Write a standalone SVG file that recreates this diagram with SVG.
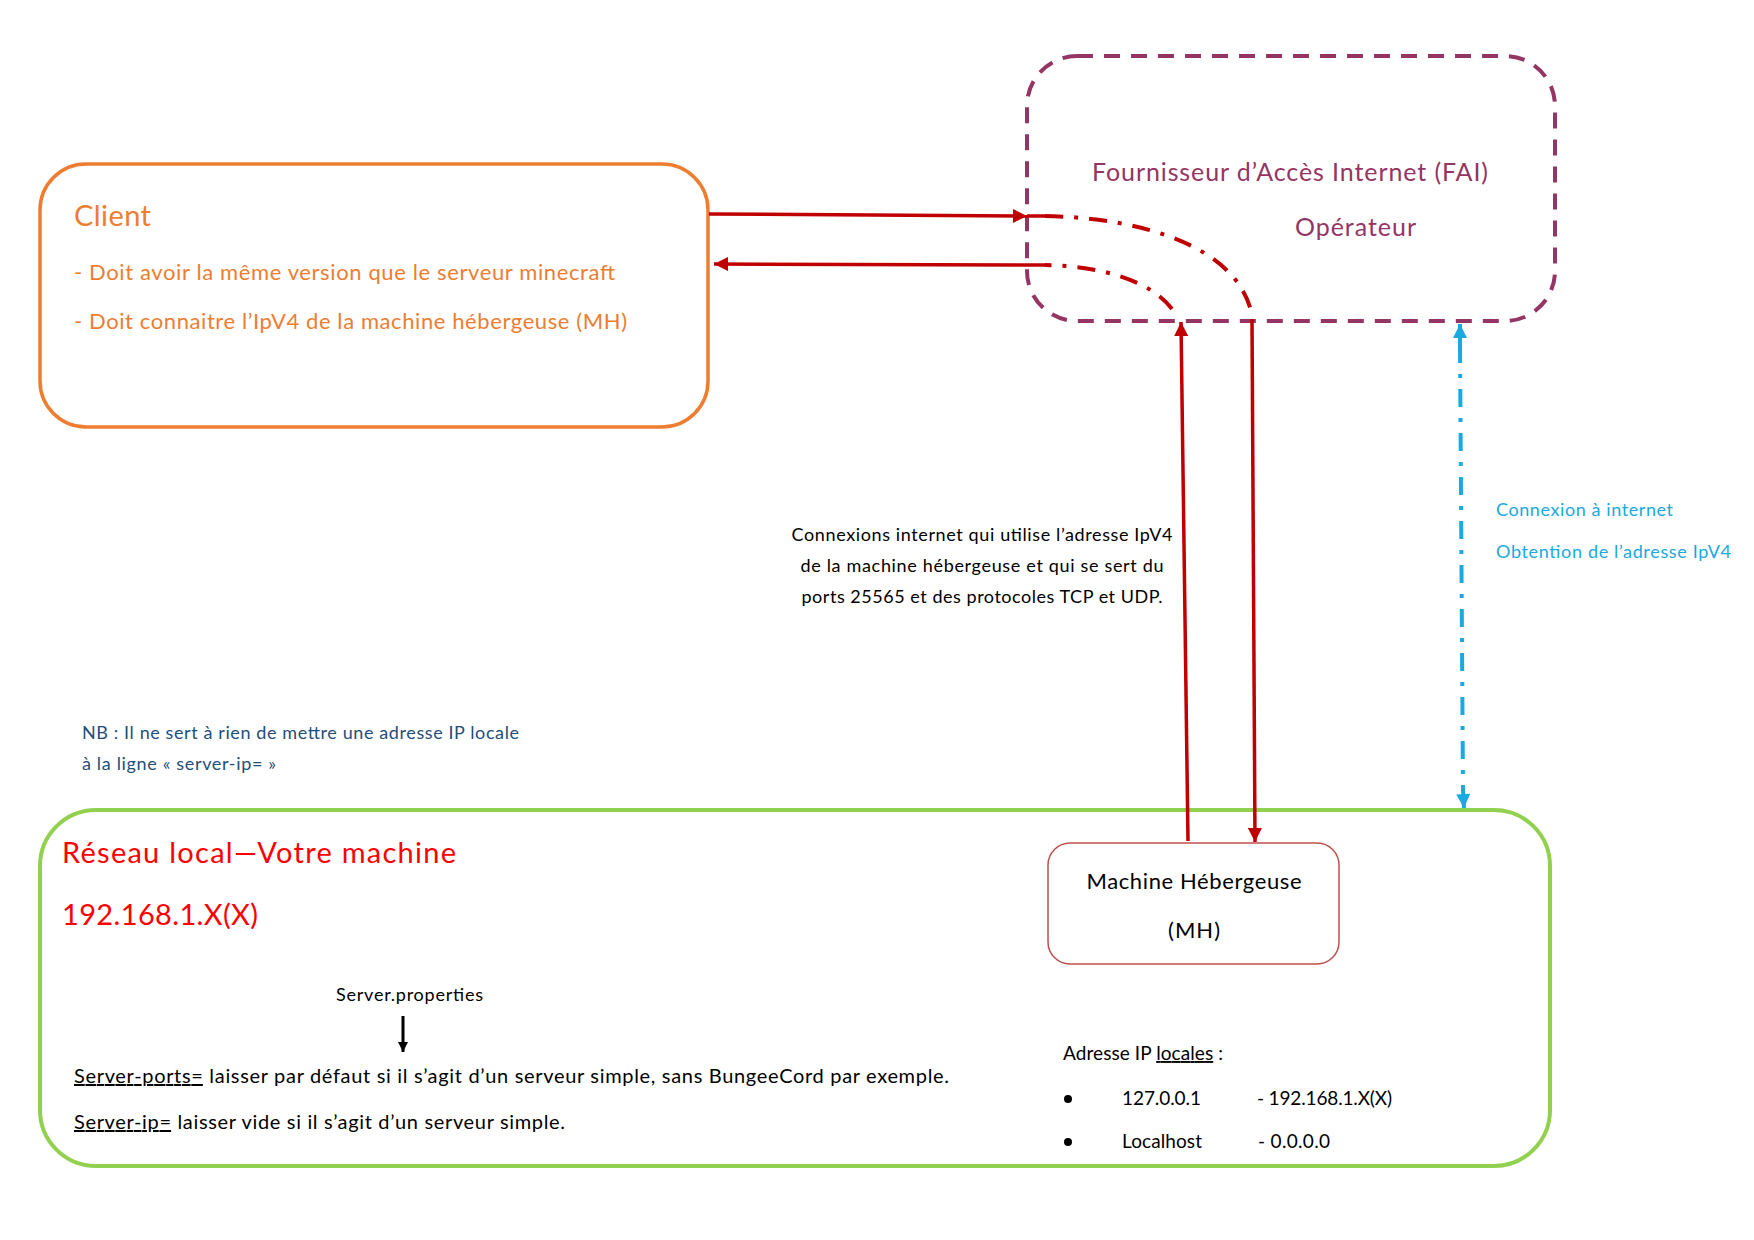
<svg xmlns="http://www.w3.org/2000/svg" width="1754" height="1240" viewBox="0 0 1754 1240">
<style>
text{font-family:Lato,"Open Sans","Liberation Sans",sans-serif}
.client{fill:#ED7D31}
.fai{fill:#953563}
.blue{fill:#1AA9E0}
.nb{fill:#1F4E79}
.red{fill:#FF0000}
.blk{fill:#000}
.sol{stroke:#C00000;stroke-width:3.5;fill:none}
.dd{stroke:#C00000;stroke-width:4;fill:none;stroke-dasharray:18 11 4 11}
</style>
<defs>
<marker id="ar" viewBox="0 0 10 10" refX="10" refY="5" markerWidth="16" markerHeight="14" markerUnits="userSpaceOnUse" orient="auto"><path d="M0,0L10,5L0,10z" fill="#C00000"/></marker>
<marker id="ab" viewBox="0 0 10 10" refX="10" refY="5" markerWidth="15" markerHeight="14" markerUnits="userSpaceOnUse" orient="auto"><path d="M0,0L10,5L0,10z" fill="#1AA9E0"/></marker>
<marker id="ak" viewBox="0 0 10 10" refX="10" refY="5" markerWidth="12" markerHeight="10" markerUnits="userSpaceOnUse" orient="auto"><path d="M0,0L10,5L0,10z" fill="#000"/></marker>
</defs>
<rect width="1754" height="1240" fill="#fff"/>
<g id="client">
<rect x="40" y="164" width="668" height="263" rx="46" fill="none" stroke="#ED7D31" stroke-width="3.5"/>
<text class="client" x="74" y="226" font-size="29" textLength="77">Client</text>
<text class="client" x="74" y="280" font-size="22" textLength="541">- Doit avoir la même version que le serveur minecraft</text>
<text class="client" x="74" y="329" font-size="22" textLength="553">- Doit connaitre l’IpV4 de la machine hébergeuse (MH)</text>
</g>
<g id="fai">
<rect x="1027" y="56" width="528" height="265" rx="50" fill="none" stroke="#953563" stroke-width="4" stroke-dasharray="16 11"/>
<text class="fai" x="1092" y="181" font-size="25" textLength="396">Fournisseur d’Accès Internet (FAI)</text>
<text class="fai" x="1295" y="236" font-size="25" textLength="121">Opérateur</text>
</g>
<g id="local">
<rect x="40" y="810" width="1510" height="356" rx="56" fill="none" stroke="#92D050" stroke-width="4"/>
<text class="red" x="62" y="863" font-size="29" textLength="394">Réseau local—Votre machine</text>
<text class="red" x="62" y="925" font-size="29" textLength="196">192.168.1.X(X)</text>
<text class="blk" x="336" y="1001" font-size="18" textLength="147">Server.properties</text>
<text class="blk" x="74" y="1083" font-size="20" textLength="875"><tspan text-decoration="underline">Server-ports=</tspan> laisser par défaut si  il s’agit d’un serveur simple, sans BungeeCord par exemple.</text>
<text class="blk" x="74" y="1129" font-size="20" textLength="491"><tspan text-decoration="underline">Server-ip=</tspan> laisser vide si  il s’agit d’un serveur simple.</text>
<text class="blk" x="1063" y="1060" font-size="19" textLength="160">Adresse IP <tspan text-decoration="underline">locales</tspan> :</text>
<circle cx="1068" cy="1099" r="4"/>
<circle cx="1068" cy="1142" r="4"/>
<text class="blk" x="1122" y="1105" font-size="19" textLength="79">127.0.0.1</text>
<text class="blk" x="1257" y="1105" font-size="19" textLength="135">- 192.168.1.X(X)</text>
<text class="blk" x="1122" y="1148" font-size="19" textLength="80">Localhost</text>
<text class="blk" x="1258" y="1148" font-size="19" textLength="72">- 0.0.0.0</text>
</g>
<g id="mh">
<rect x="1048" y="843" width="291" height="121" rx="22" fill="#fff" stroke="#C0504D" stroke-width="1.5"/>
<text class="blk" x="1194" y="889" font-size="22" text-anchor="middle" textLength="215">Machine Hébergeuse</text>
<text class="blk" x="1194" y="938" font-size="22" text-anchor="middle" textLength="52">(MH)</text>
</g>
<g id="notes">
<text class="blk" x="982" y="541" font-size="18" text-anchor="middle" textLength="381">Connexions internet qui utilise l’adresse IpV4</text>
<text class="blk" x="982" y="572" font-size="18" text-anchor="middle" textLength="363">de la machine hébergeuse et qui se sert du</text>
<text class="blk" x="982" y="603" font-size="18" text-anchor="middle" textLength="361">ports 25565 et des protocoles TCP et UDP.</text>
<text class="blue" x="1496" y="516" font-size="18" textLength="177">Connexion à internet</text>
<text class="blue" x="1496" y="558" font-size="18" textLength="235">Obtention de l’adresse IpV4</text>
<text class="nb" x="82" y="739" font-size="18" textLength="437">NB : Il ne sert à rien de mettre une adresse IP locale</text>
<text class="nb" x="82" y="770" font-size="18" textLength="194">à la ligne « server-ip= »</text>
</g>
<g id="connectors">
<path class="sol" d="M709,214 L1027,216" marker-end="url(#ar)"/>
<path class="sol" d="M1027,216 L1045,216"/>
<path class="dd" d="M1045,216 C1150,218 1236,250 1251,311"/>
<path class="sol" d="M1252,319 L1255,842" marker-end="url(#ar)"/>
<path class="sol" d="M1188,841 L1181,322" marker-end="url(#ar)"/>
<path class="dd" d="M1172,309 C1150,280 1100,266 1045,265"/>
<path class="sol" d="M1045,265 L714,264" marker-end="url(#ar)"/>
<path d="M1460,345 L1463,790" stroke="#1AA9E0" stroke-width="4" fill="none" stroke-dasharray="18 11 4 11"/>
<path d="M1460,345 L1460,324" stroke="#1AA9E0" stroke-width="4" marker-end="url(#ab)"/>
<path d="M1463,790 L1464,808" stroke="#1AA9E0" stroke-width="4" marker-end="url(#ab)"/>
<path d="M403,1016 L403,1052" stroke="#000" stroke-width="3" marker-end="url(#ak)"/>
</g>
</svg>
